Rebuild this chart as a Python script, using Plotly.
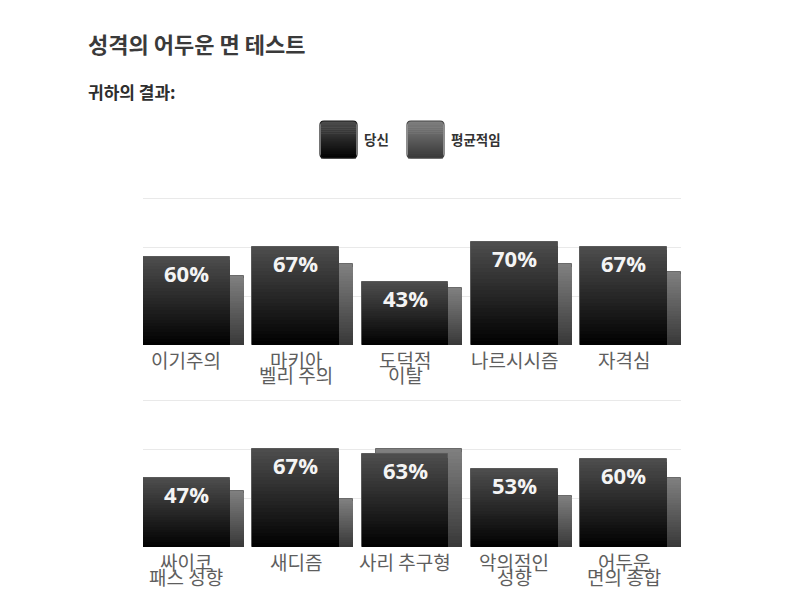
import plotly.graph_objects as go

# ---------------- data ----------------
categories_top = ["이기주의", "마키아\n벨리 주의", "도덕적\n이탈", "나르시시즘", "자격심"]
you_top = [60, 67, 43, 70, 67]
avg_top = [47, 55, 38.5, 55, 50]

categories_bottom = ["싸이코\n패스 성향", "새디즘", "사리 추구형", "악의적인\n성향", "어두운\n면의 종합"]
you_bottom = [47, 67, 63, 53, 60]
avg_bottom = [38, 32.5, 67, 35, 47]

series_names = ["당신", "평균적임"]
title_text = "성격의 어두운 면 테스트"
subtitle_text = "귀하의 결과:"

# ---------------- style ----------------
W, H = 800, 608
KR = "Noto Sans CJK KR"
BAR_W = 0.796
SHIFT = 0.064
N_LAYERS = 28
BLACK_TOP, BLACK_BOT = (78, 78, 78), (0, 0, 0)
GREY_TOP, GREY_BOT = (128, 128, 128), (56, 56, 56)


def px(x):
    return x / W


def py(y):
    return 1 - y / H


def lerp(c1, c2, t):
    return "rgb(%d,%d,%d)" % tuple(round(a + (b - a) * t) for a, b in zip(c1, c2))


fig = go.Figure()


def add_gradient_bars(xs, vals, ctop, cbot, xa, ya, edge):
    for k in range(N_LAYERS):
        frac = 1 - k / N_LAYERS
        col = lerp(ctop, cbot, (k + 0.5) / N_LAYERS)
        fig.add_trace(go.Bar(
            x=xs, y=[v * frac for v in vals], width=BAR_W,
            marker=dict(color=col,
                        line=dict(color=edge, width=1 if k == 0 else 0)),
            xaxis=xa, yaxis=ya, showlegend=False, hoverinfo="skip"))


panels = [
    (categories_top, you_top, avg_top, "x", "y"),
    (categories_bottom, you_bottom, avg_bottom, "x2", "y2"),
]

annotations = []
for cats, you, avg, xa, ya in panels:
    idx = list(range(len(cats)))
    x_you = [i - SHIFT for i in idx]
    x_avg = [i + SHIFT for i in idx]
    add_gradient_bars(x_avg, avg, GREY_TOP, GREY_BOT, xa, ya, "#6a6a6a")
    add_gradient_bars(x_you, you, BLACK_TOP, BLACK_BOT, xa, ya, "#5a5a5a")
    # value labels
    for x, v in zip(x_you, you):
        annotations.append(dict(
            x=x, y=v, xref=xa, yref=ya, text="%d%%" % v, showarrow=False,
            yanchor="top", yshift=1,
            font=dict(family="Open Sans", size=22, color="#f4f4f4", weight="bold")))
    # category labels (tight line spacing)
    for x, c in zip(x_you, cats):
        for li, line in enumerate(c.split("\n")):
            annotations.append(dict(
                x=x, y=0, xref=xa, yref=ya, text=line, showarrow=False,
                yanchor="middle", yshift=-14 - 15 * li,
                font=dict(family=KR, size=19, color="#5e5e5e")))

# title / subtitle
annotations.append(dict(x=px(86), y=py(43), xref="paper", yref="paper", text=title_text,
                        showarrow=False, xanchor="left", yanchor="middle",
                        font=dict(family=KR, size=22, color="#3a3a3a", weight="bold")))
annotations.append(dict(x=px(86), y=py(92), xref="paper", yref="paper", text=subtitle_text,
                        showarrow=False, xanchor="left", yanchor="middle",
                        font=dict(family=KR, size=17, color="#2e2e2e", weight="bold")))

# legend (custom swatches)
shapes = []
legend_items = [
    (series_names[0], 320, BLACK_TOP, BLACK_BOT, "#1a1a1a", 362),
    (series_names[1], 407, GREY_TOP, GREY_BOT, "#444444", 449),
]
SW_TOP, SW_BOT, SW_W = 121, 158, 37
for name, x0, ctop, cbot, edge, tx in legend_items:
    n = 18
    for k in range(n):
        y0 = SW_TOP + (SW_BOT - SW_TOP) * k / n
        y1 = SW_TOP + (SW_BOT - SW_TOP) * (k + 1) / n
        shapes.append(dict(type="rect", xref="paper", yref="paper",
                           x0=px(x0 + 1), x1=px(x0 + SW_W - 1), y0=py(y1 + 0.5), y1=py(y0),
                           fillcolor=lerp(ctop, cbot, (k + 0.5) / n), line=dict(width=0)))
    r = 4
    xa0, xa1, ya0, ya1 = x0, x0 + SW_W, SW_TOP, SW_BOT
    path = (f"M {px(xa0 + r)},{py(ya0)} L {px(xa1 - r)},{py(ya0)} "
            f"Q {px(xa1)},{py(ya0)} {px(xa1)},{py(ya0 + r)} "
            f"L {px(xa1)},{py(ya1 - r)} Q {px(xa1)},{py(ya1)} {px(xa1 - r)},{py(ya1)} "
            f"L {px(xa0 + r)},{py(ya1)} Q {px(xa0)},{py(ya1)} {px(xa0)},{py(ya1 - r)} "
            f"L {px(xa0)},{py(ya0 + r)} Q {px(xa0)},{py(ya0)} {px(xa0 + r)},{py(ya0)} Z")
    shapes.append(dict(type="path", xref="paper", yref="paper", path=path,
                       line=dict(color=edge, width=1.2), fillcolor="rgba(0,0,0,0)"))
    annotations.append(dict(x=px(tx), y=py(139.5), xref="paper", yref="paper", text=name,
                            showarrow=False, xanchor="left", yanchor="middle",
                            font=dict(family=KR, size=13.5, color="#333333", weight="bold")))

xdom = [px(143), px(681)]
# plot height 150 px per panel: 147 px per 100 %, top 3 px of headroom so the 100 % grid line shows
PANEL_PX = 150
YMAX = 100 * PANEL_PX / 147
yaxis_common = dict(range=[0, YMAX], tickvals=[0, 100 / 3, 200 / 3, 100], showticklabels=False,
                    showgrid=True, gridcolor="#e9e9e9", gridwidth=1, zeroline=False,
                    showline=False, fixedrange=True)
xaxis_common = dict(range=[-0.462, 4.462], showticklabels=False, showgrid=False,
                    zeroline=False, showline=False, fixedrange=True)

fig.update_layout(
    width=W, height=H,
    margin=dict(l=0, r=0, t=0, b=0),
    paper_bgcolor="white", plot_bgcolor="white",
    barmode="overlay", bargap=0,
    showlegend=False,
    xaxis=dict(domain=xdom, anchor="y", **xaxis_common),
    yaxis=dict(domain=[py(345), py(345 - PANEL_PX)], anchor="x", **yaxis_common),
    xaxis2=dict(domain=xdom, anchor="y2", **xaxis_common),
    yaxis2=dict(domain=[py(547), py(547 - PANEL_PX)], anchor="x2", **yaxis_common),
    annotations=annotations,
    shapes=shapes,
)

fig.write_html("out.html")
